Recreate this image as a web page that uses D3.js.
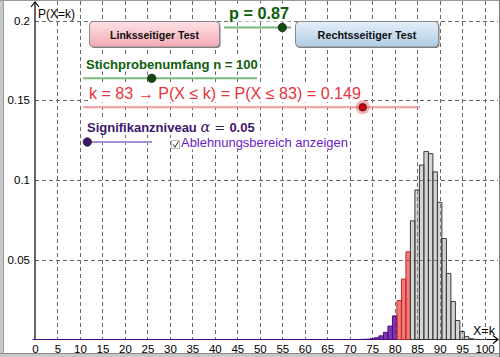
<!DOCTYPE html>
<html><head><meta charset="utf-8">
<script src="https://cdn.jsdelivr.net/npm/d3@7/dist/d3.min.js"></script>
<style>body{margin:0;background:#fff}svg{display:block}</style>
</head><body>
<svg id="chart" width="500" height="357"></svg>
<script>
// ---- data ----
const nSample = 100;
const pValue = 0.87;
const kSelected = 83;
const alphaValue = 0.05;
const cumulativeAtK = 0.149;
const rejectionMax = 80; // purple bars k <= 80
// P(X=k) for k = 0..100
const probs = [
  0,0,0,0,0,0,0,0,0,0, 0,0,0,0,0,0,0,0,0,0,
  0,0,0,0,0,0,0,0,0,0, 0,0,0,0,0,0,0,0,0,0,
  0,0,0,0,0,0,0,0,0,0, 0,0,0,0,0,0,0,0,0,0,
  0,0,0,0,0,0,0,0,0,0, 0,0,0,
  0.0001,0.0002,0.0005,0.0011,0.0023,0.0045,0.0084,0.0148,
  0.0244,0.0379,0.0550,
  0.0744,0.0938,0.1094,0.1179,0.1165,0.1051,0.0860,0.0633,0.0414,0.0238,
  0.0119,0.0050,0.0018,0.0005,0.0001,0,0
];
const xTicks = [0,5,10,15,20,25,30,35,40,45,50,55,60,65,70,75,80,85,90,95,100];
const yTicks = [0.05,0.1,0.15,0.2];
const yTickLabels = ["0.05","0.1","0.15","0.2"];

const svg = d3.select("#chart");
const FONT = "'Liberation Sans', Arial, sans-serif";

const x = d3.scaleLinear().domain([0,100]).range([35, 484.6]);
const y = d3.scaleLinear().domain([0,0.2]).range([339.5, 20.5]);

svg.append("rect").attr("width",500).attr("height",357).attr("fill","#fff");

// grid
const grid = svg.append("g").attr("stroke","#6a6a6a").attr("stroke-width",1).attr("stroke-dasharray","4,3");
grid.selectAll("line.v").data(xTicks.filter(d=>d>0)).join("line")
  .attr("x1",d=>Math.round(x(d))+0.5).attr("x2",d=>Math.round(x(d))+0.5)
  .attr("y1",1).attr("y2",y(0));
grid.selectAll("line.h").data(yTicks).join("line")
  .attr("y1",d=>Math.round(y(d))+0.5).attr("y2",d=>Math.round(y(d))+0.5)
  .attr("x1",x(0)).attr("x2",498);

// axes
const axes = svg.append("g").attr("stroke","#000").attr("fill","none").attr("stroke-width",1.2);
axes.append("line").attr("x1",x(0)).attr("x2",498).attr("y1",y(0)).attr("y2",y(0));
axes.append("line").attr("x1",x(0)).attr("x2",x(0)).attr("y1",y(0)).attr("y2",2);
axes.append("path").attr("d",`M${x(0)-4},7 L${x(0)},2 L${x(0)+4},7`);
axes.append("path").attr("d",`M493,${y(0)-4} L498,${y(0)} L493,${y(0)+4}`);

// bars
const bars = probs.map((p,k)=>({k,p}));
function barColor(k){
  if (k <= rejectionMax) return {fill:"#6a14a8", op:0.85, stroke:"#4a0c80"};
  if (k <= kSelected) return {fill:"#e82a2a", op:0.62, stroke:"#c02828"};
  return {fill:"#9a9a9a", op:0.42, stroke:"#3a3a3a"};
}
svg.append("g").selectAll("path").data(bars).join("path")
  .attr("d",d=>{const x0=x(d.k-0.5), x1=x(d.k+0.5), y0=y(0), y1=y(d.p);
    return `M${x0},${y0} V${y1} H${x1} V${y0} Z`;})
  .attr("fill",d=>barColor(d.k).fill).attr("fill-opacity",d=>barColor(d.k).op)
  .attr("stroke",d=>barColor(d.k).stroke).attr("stroke-width",1);

// frame
svg.append("rect").attr("x",0).attr("y",0).attr("width",3).attr("height",357).attr("fill","#c8c8c8");
svg.append("rect").attr("x",0).attr("y",354).attr("width",500).attr("height",3).attr("fill","#c8c8c8");
svg.append("line").attr("x1",0).attr("x2",500).attr("y1",353.5).attr("y2",353.5).attr("stroke","#8a8a8a");
svg.append("line").attr("x1",0).attr("x2",500).attr("y1",0.5).attr("y2",0.5).attr("stroke","#9a9a9a");
svg.append("line").attr("x1",499.5).attr("x2",499.5).attr("y1",0).attr("y2",357).attr("stroke","#7a7a7a");
svg.append("line").attr("x1",3.5).attr("x2",3.5).attr("y1",0).attr("y2",354).attr("stroke","#9a9a9a");

// tick labels via d3 axes
const xAxis = svg.append("g").attr("transform",`translate(0,${y(0)})`)
  .call(d3.axisBottom(x).tickValues(xTicks).tickSize(0).tickPadding(5).tickFormat(d3.format("d")));
xAxis.select(".domain").remove();
xAxis.selectAll("text").attr("font-family",FONT).attr("font-size",11.5).attr("fill","#000");
const yAxis = svg.append("g").attr("transform",`translate(${x(0)},0)`)
  .call(d3.axisLeft(y).tickValues(yTicks).tickSize(0).tickPadding(5).tickFormat((d,i)=>yTickLabels[i]));
yAxis.select(".domain").remove();
yAxis.selectAll("text").attr("font-family",FONT).attr("font-size",11.5).attr("fill","#000");

// axis labels
svg.append("text").attr("x",38).attr("y",18).attr("font-family",FONT).attr("font-size",12).text("P(X=k)");
svg.append("text").attr("x",473).attr("y",335).attr("font-family",FONT).attr("font-size",12.5).text("X=k");

// helper: text with white background, fitted to width
function label(xp, yp, str, opts){
  const g = svg.append("g");
  const bg = g.append("rect").attr("fill","#fff");
  const t = g.append("text").attr("x",xp).attr("y",yp)
    .attr("font-family",opts.family||FONT).attr("font-size",opts.size)
    .attr("font-weight",opts.weight||"normal").attr("fill",opts.color)
    .text(str);
  if (opts.anchor) t.attr("text-anchor",opts.anchor);
  if (opts.width){
    const w = t.node().getComputedTextLength();
    t.attr("font-size", opts.size*opts.width/w);
  }
  if (opts.bg){
    const b = t.node().getBBox();
    bg.attr("x",b.x-1).attr("y",b.y).attr("width",b.width+2).attr("height",b.height);
  } else bg.remove();
  return t;
}
function slider(x0,x1,yy,frac,lineColor,dotColor,halo){
  const s = d3.scaleLinear().domain([0,1]).range([x0,x1]);
  svg.append("line").attr("x1",x0).attr("x2",x1).attr("y1",yy).attr("y2",yy)
    .attr("stroke",lineColor).attr("stroke-width",2);
  if (halo) svg.append("circle").attr("cx",s(frac)).attr("cy",yy).attr("r",7).attr("fill",halo);
  svg.append("circle").attr("cx",s(frac)).attr("cy",yy).attr("r",halo?3.8:4.2)
    .attr("fill",dotColor).attr("stroke","#222").attr("stroke-width",0.8);
}

// buttons
const defs = svg.append("defs");
function grad(id,c1,c2){
  const g = defs.append("linearGradient").attr("id",id).attr("x1",0).attr("y1",0).attr("x2",0).attr("y2",1);
  g.append("stop").attr("offset","0").attr("stop-color",c1);
  g.append("stop").attr("offset","1").attr("stop-color",c2);
}
grad("gPink","#fde2e6","#f3a9b4");
grad("gBlue","#e6f0f9","#aecbe4");
function button(bx,by,bw,bh,fillId,str,tw){
  svg.append("rect").attr("x",bx+1).attr("y",by+1).attr("width",bw).attr("height",bh).attr("rx",4)
    .attr("fill","#777");
  svg.append("rect").attr("x",bx).attr("y",by).attr("width",bw).attr("height",bh).attr("rx",4)
    .attr("fill",`url(#${fillId})`).attr("stroke","#8a8a8a").attr("stroke-width",1);
  label(bx+bw/2, by+17, str, {size:11, weight:"bold", color:"#111", anchor:"middle", width:tw});
}

// p slider
label(229, 18.5, `p = ${pValue}`, {size:14, weight:"bold", color:"#0d5e0d", width:60, bg:true});
slider(224, 291, 27.5, 0.87, "#7ab87a", "#0d4d0d");

button(89.5, 21.5, 130, 25.5, "gPink", "Linksseitiger Test", 89);
button(295.5, 21.5, 143, 25.5, "gBlue", "Rechtsseitiger Test", 99);

// n slider
label(86, 68.5, `Stichprobenumfang n = ${nSample}`, {size:13, weight:"bold", color:"#0d5e0d", width:172, bg:true});
slider(83, 257, 78.3, 0.395, "#7ab87a", "#0d4d0d");

// k slider
label(89, 99.3, `k = ${kSelected} \u2192 P(X \u2264 k) = P(X \u2264 ${kSelected}) = ${cumulativeAtK}`,
  {size:14.5, color:"#e8333b", width:272, bg:true});
slider(83, 420, 107.3, kSelected/nSample, "#f29a9a", "#d00010", "rgba(240,80,80,0.45)");

// alpha slider
const sig = svg.append("g");
const sbg = sig.append("rect").attr("fill","#fff");
const st = sig.append("text").attr("x",87).attr("y",132).attr("font-family",FONT)
  .attr("font-size",13).attr("font-weight","bold").attr("fill","#3d176e");
st.append("tspan").text("Signifikanzniveau ");
st.append("tspan").attr("font-family","'DejaVu Serif', serif").attr("font-style","italic").attr("font-weight","normal").attr("font-size",14.5).text("\u03b1");
st.append("tspan").attr("font-family","'DejaVu Serif', serif").attr("font-weight","normal").attr("font-size",13).text(" = ");
st.append("tspan").text(String(alphaValue));
{const b = st.node().getBBox(); sbg.attr("x",b.x-1).attr("y",b.y).attr("width",b.width+2).attr("height",b.height);}
slider(86, 152, 142, 0.02, "#a58fd6", "#3d176e");

// checkbox
svg.append("rect").attr("x",171.5).attr("y",140.5).attr("width",8).attr("height",8)
  .attr("fill","#fff").attr("stroke","#bbb");
svg.append("path").attr("d","M173,144.5 L175,147 L178.5,141.5").attr("fill","none").attr("stroke","#555").attr("stroke-width",1.2);
label(181, 146.5, "Ablehnungsbereich anzeigen", {size:12.5, color:"#6a22c8", width:167, bg:true});
</script>
</body></html>
